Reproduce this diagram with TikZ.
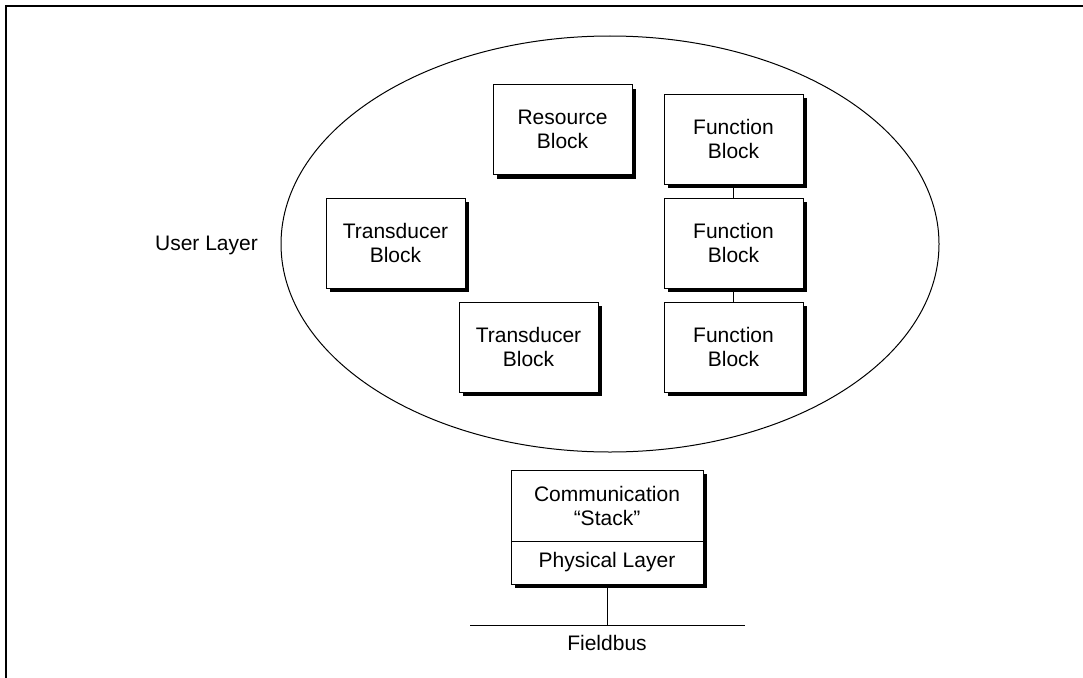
\documentclass[tikz,border=0pt]{standalone}
\usepackage{fontspec}
\setmainfont{Liberation Sans}
\usetikzlibrary{shadows,shapes.geometric}
\begin{document}
\begin{tikzpicture}[x=1pt,y=-1pt,
  txt/.style={font=\fontsize{21}{24}\selectfont, align=center, inner sep=0pt},
  blk/.style={txt, draw=black, line width=0.8pt, fill=white,
    minimum width=139pt, minimum height=90pt,
    drop shadow={shadow xshift=4pt, shadow yshift=-4pt, fill=black, opacity=1}},
  stackbox/.style={txt, draw=black, line width=0.8pt, fill=white, minimum width=192pt,
    drop shadow={shadow xshift=4pt, shadow yshift=-4pt, fill=black, opacity=1}},
  conn/.style={draw=black, line width=0.9pt},
  frameline/.style={draw=black, line width=2pt}
]
\useasboundingbox (0,0) rectangle (1083,677);
\draw[frameline] (1090,6) -- (6,6) -- (6,690);

\node[ellipse, draw=black, line width=1pt, minimum width=658pt, minimum height=416pt, inner sep=0pt] (ul) at (610,244) {};
\node[txt] (ullabel) at (206.5,245) {User Layer};

\node[blk] (res) at (562.5,129.5) {Resource\\Block};
\node[blk] (f1) at (733.5,139) {Function\\Block};
\node[blk] (f2) at (733.5,243) {Function\\Block};
\node[blk] (f3) at (733.5,347) {Function\\Block};
\node[blk] (t1) at (395.5,243) {Transducer\\Block};
\node[blk] (t2) at (528.5,347) {Transducer\\Block};

\draw[conn] (f1.south) -- (f2.north);
\draw[conn] (f2.south) -- (f3.north);

\node[stackbox, minimum height=71pt] (comm) at (607,505.5) {Communication\\“Stack”};
\node[stackbox, minimum height=43pt] (phys) at (607,562.5) {Physical Layer};

\coordinate (bus) at (607,625);
\coordinate (busL) at (470,625);
\coordinate (busR) at (745,625);
\draw[conn] (phys.south) -- (bus);
\draw[conn] (busL) -- (busR);
\node[txt] (fb) at (607,643) {Fieldbus};
\end{tikzpicture}
\end{document}
